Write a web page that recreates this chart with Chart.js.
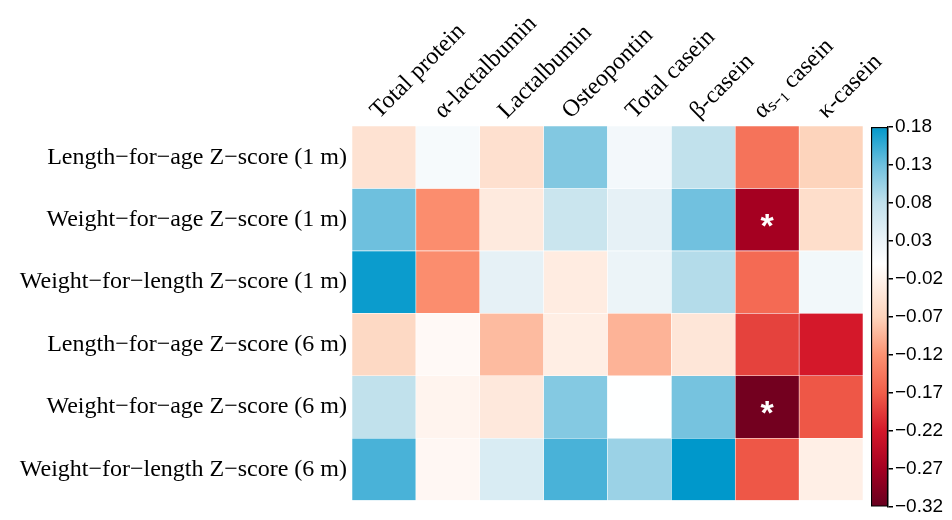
<!DOCTYPE html>
<html>
<head>
<meta charset="utf-8">
<script src="https://cdn.jsdelivr.net/npm/chart.js@4"></script>
<style>
  body { margin: 0; background: #fff; }
  #wrap { position: relative; width: 952px; height: 520px; }
  #heat { position: absolute; left: 0; top: 0; }
  #bar { position: absolute; left: 860px; top: 0; }
</style>
</head>
<body>
<div id="wrap">
  <canvas id="heat" width="952" height="520"></canvas>
  <canvas id="bar" width="92" height="520"></canvas>
</div>
<script>
const proteins = ['Total protein', '\u03b1-lactalbumin', 'Lactalbumin', 'Osteopontin', 'Total casein',
    '\u03b2-casein', '\u03b1\u209b\u208b\u2081 casein', '\u03ba-casein'];
const outcomes = [
    'Length\u2212for\u2212age Z\u2212score (1 m)',
    'Weight\u2212for\u2212age Z\u2212score (1 m)',
    'Weight\u2212for\u2212length Z\u2212score (1 m)',
    'Length\u2212for\u2212age Z\u2212score (6 m)',
    'Weight\u2212for\u2212age Z\u2212score (6 m)',
    'Weight\u2212for\u2212length Z\u2212score (6 m)',
];
// correlation per outcome row, one value per protein column
const lengthAge1 = [-0.047, 0.014, -0.05, 0.118, 0.019, 0.08, -0.15, -0.07];
const weightAge1 = [0.13, -0.125, -0.035, 0.07, 0.037, 0.128, -0.27, -0.054];
const weightLength1 = [0.175, -0.125, 0.037, -0.031, 0.03, 0.088, -0.158, 0.02];
const lengthAge6 = [-0.062, -0.01, -0.089, -0.028, -0.095, -0.041, -0.19, -0.22];
const weightAge6 = [0.08, -0.018, -0.037, 0.117, 0.001, 0.125, -0.31, -0.175];
const weightLength6 = [0.147, -0.013, 0.052, 0.147, 0.103, 0.18, -0.175, -0.026];
const rows = [lengthAge1, weightAge1, weightLength1, lengthAge6, weightAge6, weightLength6];
// significant cells: [row, column]
const stars = [[1, 6], [4, 6]];
const scaleTicks = [0.18, 0.13, 0.08, 0.03, -0.02, -0.07, -0.12, -0.17, -0.22, -0.27, -0.32];

// colour ramp
const stopVals = [0.18, 0.13, 0.08, 0.03, 0, -0.02, -0.07, -0.12, -0.17, -0.22, -0.27, -0.32];
const stopCols = [[0, 152, 203], [110, 192, 222], [193, 225, 236], [236, 244, 248], [255, 255, 255],
    [255, 243, 236], [253, 212, 188], [252, 146, 114], [241, 94, 74], [212, 24, 42], [165, 0, 33], [103, 0, 31]];

function colorFor(v) {
    if (v >= stopVals[0]) return 'rgb(' + stopCols[0].join(',') + ')';
    for (let i = 1; i < stopVals.length; i++) {
        if (v >= stopVals[i]) {
            const t = (stopVals[i - 1] - v) / (stopVals[i - 1] - stopVals[i]);
            const a = stopCols[i - 1], b = stopCols[i];
            const c = a.map((x, k) => Math.round(x + (b[k] - x) * t));
            return 'rgb(' + c.join(',') + ')';
        }
    }
    return 'rgb(' + stopCols[stopCols.length - 1].join(',') + ')';
}

const serif = 'Liberation Serif';

const starPlugin = {
    id: 'stars',
    afterDatasetsDraw(chart) {
        const { ctx, scales } = chart;
        ctx.save();
        ctx.fillStyle = '#fff';
        ctx.font = 'bold 34px "Liberation Sans"';
        ctx.textAlign = 'center';
        ctx.textBaseline = 'middle';
        stars.forEach(([r, c]) => {
            ctx.fillText('*', scales.x.getPixelForValue(c), scales.y.getPixelForValue(r + 0.5) + 8);
        });
        ctx.restore();
    }
};

new Chart(document.getElementById('heat'), {
    type: 'bar',
    data: {
        labels: proteins,
        datasets: rows.map((vals, i) => ({
            label: outcomes[i],
            data: vals.map(() => 1),
            backgroundColor: vals.map(colorFor),
            borderColor: 'rgba(255,255,255,0.35)',
            borderWidth: 0.6,
            borderSkipped: false,
            barPercentage: 1,
            categoryPercentage: 1,
        })),
    },
    options: {
        responsive: false,
        animation: false,
        layout: { padding: { left: 0, right: 89, top: 0, bottom: 10 } },
        plugins: { legend: { display: false }, tooltip: { enabled: false } },
        scales: {
            x: {
                position: 'top',
                stacked: true,
                grid: { display: false, drawTicks: false },
                border: { display: false },
                ticks: {
                    color: '#000',
                    font: { family: serif, size: 24 },
                    minRotation: 45,
                    maxRotation: 45,
                    padding: 1,
                    labelOffset: 11,
                },
                afterFit(scale) { scale.height = 126; },
            },
            y: {
                stacked: true,
                reverse: true,
                min: 0,
                max: 6,
                grid: { display: false, drawTicks: false },
                border: { display: false },
                afterBuildTicks(scale) {
                    scale.ticks = outcomes.map((_, i) => ({ value: i + 0.5 }));
                },
                ticks: {
                    color: '#000',
                    font: { family: serif, size: 24 },
                    padding: 5,
                    callback: (v, i) => outcomes[i],
                },
                afterFit(scale) { scale.width = 352; },
            },
        },
    },
    plugins: [starPlugin],
});

// colour bar
new Chart(document.getElementById('bar'), {
    type: 'bar',
    data: {
        labels: [''],
        datasets: [{
            data: [[scaleTicks[scaleTicks.length - 1], scaleTicks[0]]],
            backgroundColor(ctx) {
                const chart = ctx.chart;
                if (!chart.chartArea) return '#fff';
                const y = chart.scales.y;
                const top = y.getPixelForValue(stopVals[0]);
                const bot = y.getPixelForValue(stopVals[stopVals.length - 1]);
                const g = chart.ctx.createLinearGradient(0, top, 0, bot);
                stopVals.forEach((v, i) => {
                    g.addColorStop((stopVals[0] - v) / (stopVals[0] - stopVals[stopVals.length - 1]),
                        'rgb(' + stopCols[i].join(',') + ')');
                });
                return g;
            },
            borderColor: '#000',
            borderWidth: 1.5,
            borderSkipped: false,
            barPercentage: 1,
            categoryPercentage: 1,
        }],
    },
    options: {
        responsive: false,
        animation: false,
        layout: { padding: { left: 11, right: 0, top: 127, bottom: 10 } },
        plugins: { legend: { display: false }, tooltip: { enabled: false } },
        scales: {
            x: { display: false },
            y: {
                position: 'right',
                min: scaleTicks[scaleTicks.length - 1],
                max: scaleTicks[0],
                afterBuildTicks(scale) {
                    scale.ticks = scaleTicks.map(v => ({ value: v }));
                },
                grid: { drawOnChartArea: false, color: '#000', lineWidth: 1.5, tickLength: 5 },
                border: { display: true, color: '#000', width: 1.5 },
                ticks: {
                    color: '#000',
                    padding: 2,
                    font: { family: 'Liberation Sans', size: 19 },
                    callback: v => (v < 0 ? '\u2212' : '') + Math.abs(v).toFixed(2),
                },
                afterFit(scale) { scale.width = 64; },
            },
        },
    },
});
</script>
</body>
</html>
